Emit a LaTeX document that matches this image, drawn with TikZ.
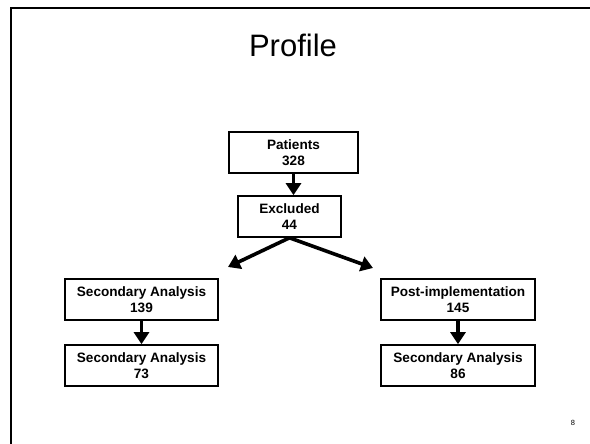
\documentclass[tikz,border=0pt]{standalone}
\usepackage{fontspec}
\setmainfont{Liberation Sans}
\usetikzlibrary{arrows.meta}

\tikzset{
  flowbox/.style={draw, line width=1.6pt, align=center, font=\bfseries\fontsize{13.6}{16}\selectfont, inner sep=0pt, minimum height=41pt},
  flowarrow/.style={line width=3.6pt, -{Triangle[width=15pt,length=12pt]}}
}

\begin{document}
\begin{tikzpicture}[x=1pt,y=-1pt]
\useasboundingbox (0,0) rectangle (590,444);
% slide frame
\draw[line width=1.8pt] (11,444)--(11,8)--(590,8);
\node (title) at (293,45) {\fontsize{31}{36}\selectfont Profile};
% boxes
\node[flowbox, minimum width=129pt] (pat) at (293.5,152.5) {Patients\\328};
\node[flowbox, minimum width=103pt] (exc) at (289.5,216.5) {Excluded\\44};
\node[flowbox, minimum width=153pt] (sec1) at (141.5,299.5) {Secondary Analysis\\139};
\node[flowbox, minimum width=153pt] (sec2) at (141.5,365.5) {Secondary Analysis\\73};
\node[flowbox, minimum width=154pt] (post) at (458,299.5) {Post-implementation\\145};
\node[flowbox, minimum width=154pt] (sec3) at (458,365.5) {Secondary Analysis\\86};
\coordinate (lefttip) at (228,267);
\coordinate (righttip) at (373,268);
% arrows
\draw[flowarrow] (pat.south) -- (exc.north -| pat.south);
\draw[flowarrow] (exc.south) -- (lefttip);
\draw[flowarrow] (exc.south) -- (righttip);
\draw[flowarrow] (sec1) -- (sec2);
\draw[flowarrow] (post) -- (sec3);
\node (page) at (573,423) {\fontsize{7.5}{9}\selectfont 8};
\end{tikzpicture}
\end{document}
